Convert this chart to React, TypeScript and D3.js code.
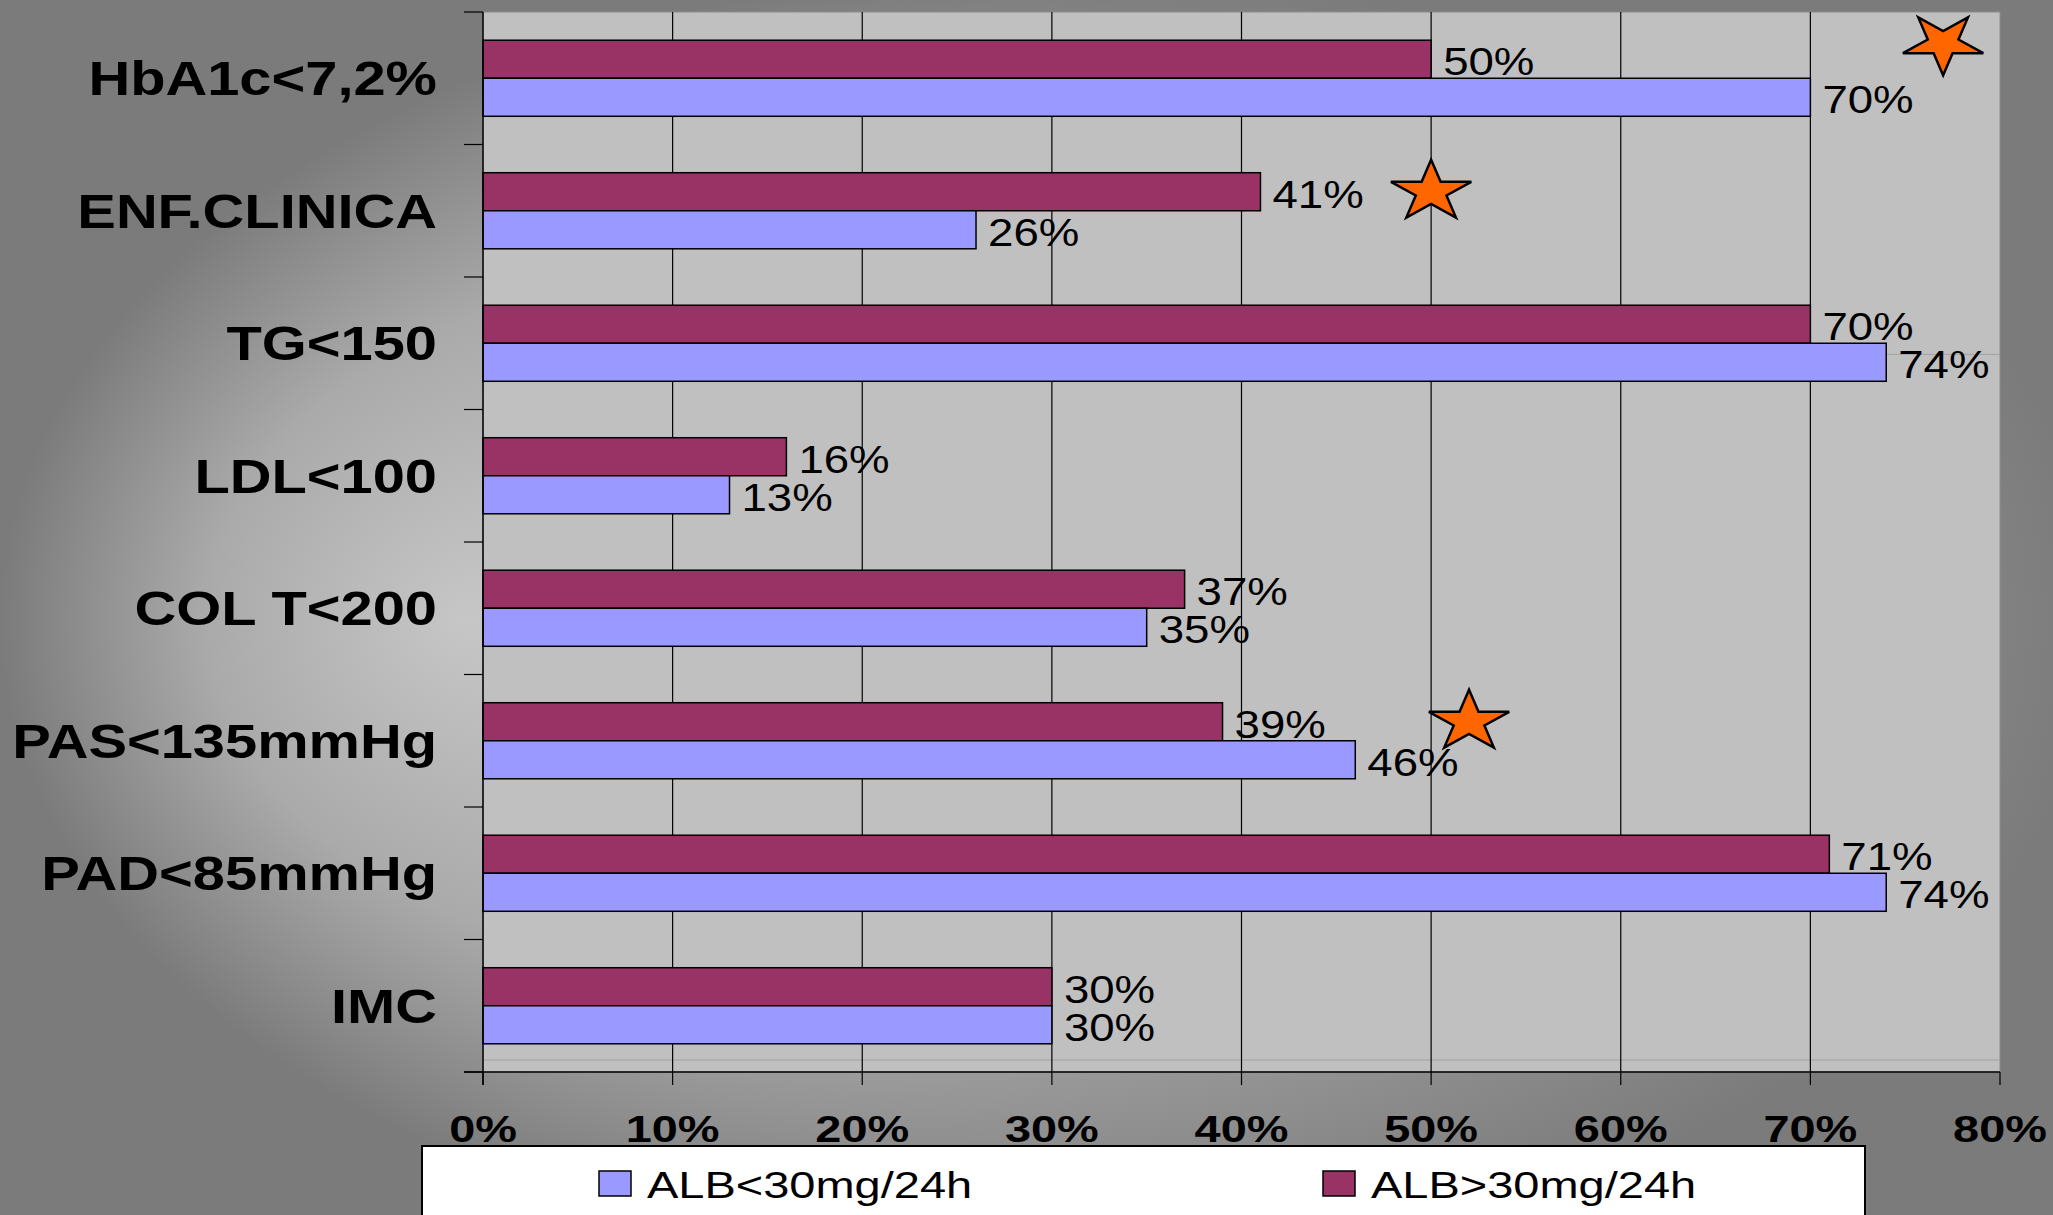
import React from "react";
import * as d3 from "d3";

// categories, top to bottom
const categories = [
  "HbA1c<7,2%",
  "ENF.CLINICA",
  "TG<150",
  "LDL<100",
  "COL T<200",
  "PAS<135mmHg",
  "PAD<85mmHg",
  "IMC",
];
// ALB>30mg/24h (maroon, upper bar of each pair)
const albHigh = [50, 41, 70, 16, 37, 39, 71, 30];
// ALB<30mg/24h (blue, lower bar)
const albLow = [70, 26, 74, 13, 35, 46, 74, 30];
const xTicks = [0, 10, 20, 30, 40, 50, 60, 70, 80];
const seriesNames = ["ALB<30mg/24h", "ALB>30mg/24h"];
const seriesColors = ["#9999FF", "#993366"];
// significance stars: category, x value, vertical shift in bar heights, flipped
const stars = [
  { cat: "HbA1c<7,2%", value: 77, shift: -0.42, flip: true },
  { cat: "ENF.CLINICA", value: 50, shift: 0, flip: false },
  { cat: "PAS<135mmHg", value: 52, shift: 0, flip: false },
];

const W = 2053;
const H = 1215;
const margin = { top: 12, right: 53, bottom: 143, left: 483 };
const font = "'Liberation Sans', Arial, sans-serif";
const SX = 1.2; // text in the original is stretched horizontally

function starPath(R: number) {
  const pts: [number, number][] = d3.range(10).map((i) => [
    (i * Math.PI) / 5,
    i % 2 ? R * 0.382 : R,
  ]);
  return d3.lineRadial().curve(d3.curveLinearClosed)(pts) as string;
}

export default function App() {
  const innerW = W - margin.left - margin.right;
  const innerH = H - margin.top - margin.bottom;
  const x0 = margin.left;
  const y0 = margin.top;
  const yBottom = y0 + innerH;

  const x = d3.scaleLinear().domain([0, 80]).range([x0, x0 + innerW]);
  const y = d3
    .scaleBand<string>()
    .domain(categories)
    .range([y0, yBottom])
    .paddingInner(0.426)
    .paddingOuter(0.213);
  const ySub = d3
    .scaleBand<string>()
    .domain(["high", "low"])
    .range([0, y.bandwidth()]);

  const step = y.step();
  const bars = categories.flatMap((c, i) => [
    { cat: c, key: "high", value: albHigh[i], color: seriesColors[1] },
    { cat: c, key: "low", value: albLow[i], color: seriesColors[0] },
  ]);
  const star = starPath(32);

  return (
    <svg
      width={W}
      height={H}
      style={{ position: "absolute", left: 0, top: 0 }}
      fontFamily={font}
    >
      <defs>
        <radialGradient
          id="bg"
          gradientUnits="userSpaceOnUse"
          cx={1050}
          cy={620}
          r={1050}
          fx={460}
          fy={620}
          gradientTransform="translate(0,620) scale(1,0.62) translate(0,-620)"
        >
          <stop offset="0" stopColor="#c6c6c6" />
          <stop offset="0.55" stopColor="#aaaaaa" />
          <stop offset="1" stopColor="#7b7b7b" />
        </radialGradient>
      </defs>
      <rect width={W} height={H} fill="#7d7d7d" />
      <rect width={W} height={H} fill="url(#bg)" />

      {/* plot area */}
      <rect x={x0} y={y0} width={innerW} height={innerH} fill="#C0C0C0" stroke="#8c8c8c" />
      {[0.323, 0.9887].map((f, i) => (
        <line key={i} x1={x0} x2={x0 + innerW} y1={y0 + f * innerH} y2={y0 + f * innerH} stroke="#a2a2a2" />
      ))}
      {xTicks.slice(1, -1).map((t) => (
        <line key={t} x1={x(t)} x2={x(t)} y1={y0} y2={yBottom} stroke="#000" strokeWidth={1.2} />
      ))}

      {/* bars */}
      {bars.map((b, i) => (
        <rect
          key={i}
          x={x(0)}
          y={(y(b.cat) as number) + (ySub(b.key) as number)}
          width={x(b.value) - x(0)}
          height={ySub.bandwidth()}
          fill={b.color}
          stroke="#000"
          strokeWidth={1.5}
        />
      ))}
      {bars.map((b, i) => (
        <text
          key={i}
          transform={`translate(${x(b.value) + 12},${(y(b.cat) as number) + (ySub(b.key) as number) + ySub.bandwidth() - 3}) scale(${SX},1)`}
          fontSize={38}
          fill="#000"
        >
          {b.value}%
        </text>
      ))}

      {/* axes */}
      <line x1={x0} x2={x0} y1={y0} y2={yBottom + 13} stroke="#000" strokeWidth={1.5} />
      <line x1={x0 - 19} x2={x0 + innerW} y1={yBottom} y2={yBottom} stroke="#000" strokeWidth={1.5} />
      {d3.range(categories.length + 1).map((i) => (
        <line key={i} x1={x0 - 19} x2={x0} y1={y0 + i * step} y2={y0 + i * step} stroke="#000" strokeWidth={1.2} />
      ))}
      {xTicks.map((t) => (
        <g key={t}>
          <line x1={x(t)} x2={x(t)} y1={yBottom} y2={yBottom + 13} stroke="#000" strokeWidth={1.2} />
          <text
            transform={`translate(${x(t)},${yBottom + 70}) scale(1.25,1)`}
            textAnchor="middle"
            fontSize={37.5}
            fontWeight="bold"
          >
            {t}%
          </text>
        </g>
      ))}
      {categories.map((c) => (
        <text
          key={c}
          transform={`translate(437,${(y(c) as number) + y.bandwidth() / 2 + 17}) scale(1.18,1)`}
          textAnchor="end"
          fontSize={49}
          fontWeight="bold"
        >
          {c}
        </text>
      ))}

      {/* stars */}
      {stars.map((s, i) => {
        const cy = (y(s.cat) as number) + (ySub("high") as number) + ySub.bandwidth() * (0.5 + s.shift);
        return (
          <path
            key={i}
            d={star}
            transform={`translate(${x(s.value)},${cy}) scale(1.32,1) rotate(${s.flip ? 180 : 0})`}
            fill="#FF6600"
            stroke="#000"
            strokeWidth={2.5}
            strokeLinejoin="miter"
            vectorEffect="non-scaling-stroke"
          />
        );
      })}

      {/* legend */}
      <rect x={422} y={1146} width={1443} height={100} fill="#fff" stroke="#000" strokeWidth={2} />
      {seriesNames.map((n, i) => (
        <g key={n} transform={`translate(${599 + i * 724},1171)`}>
          <rect width={32} height={25} fill={seriesColors[i]} stroke="#000" strokeWidth={1.5} />
          <text transform={`translate(48,27) scale(1.27,1)`} fontSize={37}>
            {n}
          </text>
        </g>
      ))}
    </svg>
  );
}
